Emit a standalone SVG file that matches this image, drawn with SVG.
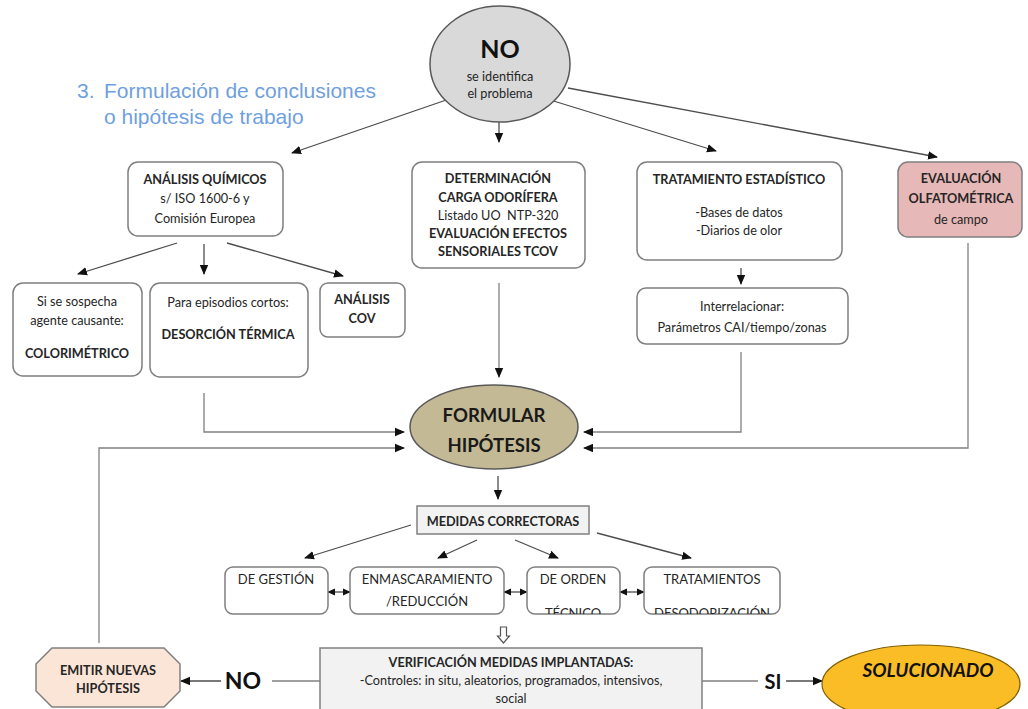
<svg xmlns="http://www.w3.org/2000/svg" width="1028" height="709" viewBox="0 0 1028 709">
<defs>
<marker id="ah" markerUnits="userSpaceOnUse" markerWidth="10" markerHeight="10" viewBox="0 0 10 10" refX="9" refY="5" orient="auto"><path d="M0,0.8 L10,5 L0,9.2 Z" fill="#111"/></marker>
<marker id="ahs" markerUnits="userSpaceOnUse" markerWidth="8" markerHeight="8" viewBox="0 0 10 10" refX="9" refY="5" orient="auto-start-reverse"><path d="M0,0.5 L10,5 L0,9.5 Z" fill="#111"/></marker>
<clipPath id="c3"><rect x="527" y="567" width="93" height="47"/></clipPath>
<clipPath id="c4"><rect x="644" y="567" width="136" height="47"/></clipPath>
</defs>
<style>
text{font-family:Lato,"Liberation Sans",sans-serif;fill:#262626;text-anchor:middle}
.b{font-weight:bold}
.s{font-size:12.7px}
.m{font-size:13px}
.t{font-family:"Liberation Sans",Arial,sans-serif;font-size:21px;fill:#6f9fe0;text-anchor:start}
.box{fill:#fff;stroke:#7f7f7f;stroke-width:1.5}
.ln{fill:none;stroke:#4d4d4d;stroke-width:1.3}
.lg{fill:none;stroke:#808080;stroke-width:1.3}
</style>
<rect width="1028" height="709" fill="#fff"/>

<g id="title">
<text x="77" y="98" class="t">3.</text>
<text x="104" y="98" class="t">Formulación de conclusiones</text>
<text x="104" y="124" class="t">o hipótesis de trabajo</text>
</g>

<g id="connectors">
<line class="ln" x1="455" y1="97" x2="292" y2="153" marker-end="url(#ah)"/>
<line class="ln" x1="499" y1="108" x2="499" y2="142" marker-end="url(#ah)"/>
<line class="ln" x1="547" y1="99" x2="716" y2="151" marker-end="url(#ah)"/>
<line class="ln" x1="568" y1="88" x2="937" y2="157" marker-end="url(#ah)"/>
<line class="ln" x1="177" y1="243" x2="78" y2="274" marker-end="url(#ah)"/>
<line class="ln" x1="204" y1="244" x2="204" y2="274" marker-end="url(#ah)"/>
<line class="ln" x1="227" y1="243" x2="343" y2="276" marker-end="url(#ah)"/>
<polyline class="lg" points="204,393 204,432 404,432" marker-end="url(#ah)"/>
<polyline class="lg" points="99,643 99,448 404,448" marker-end="url(#ah)"/>
<line class="lg" x1="499" y1="283" x2="499" y2="377" marker-end="url(#ah)"/>
<line class="ln" x1="741" y1="268" x2="741" y2="284" marker-end="url(#ah)"/>
<polyline class="lg" points="741,352 741,432 584,432" marker-end="url(#ah)"/>
<polyline class="lg" points="968,243 968,448 584,448" marker-end="url(#ah)"/>
<line class="ln" x1="498" y1="476" x2="498" y2="499" marker-end="url(#ah)"/>
<line class="ln" x1="411" y1="525" x2="305" y2="558" marker-end="url(#ah)"/>
<line class="ln" x1="477" y1="540" x2="438" y2="558" marker-end="url(#ah)"/>
<line class="ln" x1="515" y1="540" x2="558" y2="558" marker-end="url(#ah)"/>
<line class="ln" x1="597" y1="533" x2="691" y2="558" marker-end="url(#ah)"/>
<line class="ln" x1="328" y1="592" x2="350" y2="592" marker-start="url(#ahs)" marker-end="url(#ahs)"/>
<line class="ln" x1="504" y1="592" x2="527" y2="592" marker-start="url(#ahs)" marker-end="url(#ahs)"/>
<line class="ln" x1="620" y1="592" x2="644" y2="592" marker-start="url(#ahs)" marker-end="url(#ahs)"/>
<path d="M500.5,627 H506.5 V636 H509.5 L503.5,643 L497.5,636 H500.5 Z" fill="#fff" stroke="#555" stroke-width="1.2"/>
<line class="lg" x1="320" y1="681" x2="272" y2="681"/>
<line class="ln" x1="221" y1="681" x2="181" y2="681" marker-end="url(#ah)"/>
<line class="lg" x1="702" y1="681" x2="758" y2="681"/>
<line class="ln" x1="786" y1="681" x2="822" y2="681" marker-end="url(#ah)"/>
<text x="243" y="689" class="b" style="font-size:23px;fill:#111">NO</text>
<text x="773" y="689" class="b" style="font-size:20px;fill:#111">SI</text>
</g>

<g id="no-problema">
<ellipse cx="500" cy="64" rx="70" ry="58" fill="#d9d9d9" stroke="#595959" stroke-width="1.5"/>
<text x="500" y="58" class="b" style="font-size:25px;fill:#111">NO</text>
<text x="500" y="81" class="s">se identifica</text>
<text x="500" y="98" class="s">el problema</text>
</g>

<g id="analisis-quimicos">
<rect class="box" x="128" y="162" width="155" height="74" rx="10"/>
<text x="205" y="184" class="s b">ANÁLISIS QUÍMICOS</text>
<text x="205" y="203" class="s">s/ ISO 1600-6 y</text>
<text x="205" y="223" class="s">Comisión Europea</text>
</g>

<g id="determinacion">
<rect class="box" x="412" y="162" width="173" height="106" rx="10"/>
<text x="498" y="183" class="s b">DETERMINACIÓN</text>
<text x="498" y="202" class="s b">CARGA ODORÍFERA</text>
<text x="498" y="220" class="s">Listado UO&#160; NTP-320</text>
<text x="498" y="238" class="s b">EVALUACIÓN EFECTOS</text>
<text x="498" y="256" class="s b">SENSORIALES TCOV</text>
</g>

<g id="tratamiento-estadistico">
<rect class="box" x="637" y="162" width="205" height="98" rx="10"/>
<text x="739" y="184" class="s b">TRATAMIENTO ESTADÍSTICO</text>
<text x="739" y="217" class="s">-Bases de datos</text>
<text x="739" y="235" class="s">-Diarios de olor</text>
</g>

<g id="interrelacionar">
<rect class="box" x="637" y="288" width="211" height="56" rx="9"/>
<text x="742" y="311" class="s">Interrelacionar:</text>
<text x="742" y="332" class="s">Parámetros CAI/tiempo/zonas</text>
</g>

<g id="evaluacion-olfatometrica">
<rect x="898" y="162" width="124" height="75" rx="10" fill="#e6b8b7" stroke="#808080" stroke-width="1.5"/>
<text x="961" y="183" class="s b">EVALUACIÓN</text>
<text x="961" y="203" class="s b">OLFATOMÉTRICA</text>
<text x="961" y="224" class="s">de campo</text>
</g>

<g id="colorimetrico">
<rect class="box" x="13" y="283" width="129" height="93" rx="10"/>
<text x="77" y="306" class="s">Si se sospecha</text>
<text x="77" y="325" class="s">agente causante:</text>
<text x="77" y="358" class="s b">COLORIMÉTRICO</text>
</g>

<g id="desorcion">
<rect class="box" x="150" y="283" width="158" height="94" rx="10"/>
<text x="228" y="307" class="s">Para episodios cortos:</text>
<text x="228" y="339" class="s b">DESORCIÓN TÉRMICA</text>
</g>

<g id="analisis-cov">
<rect class="box" x="320" y="283" width="85" height="54" rx="8"/>
<text x="362" y="304" class="s b">ANÁLISIS</text>
<text x="362" y="323" class="s b">COV</text>
</g>

<g id="formular-hipotesis">
<ellipse cx="494" cy="427" rx="84" ry="42" fill="#c4b995" stroke="#595959" stroke-width="1.5"/>
<text x="494" y="422" class="b" style="font-size:18.5px;fill:#1a1a1a">FORMULAR</text>
<text x="494" y="452" class="b" style="font-size:18.5px;fill:#1a1a1a">HIPÓTESIS</text>
</g>

<g id="medidas-correctoras">
<rect x="417" y="506" width="172" height="28" fill="#f2f2f2" stroke="#808080" stroke-width="1.5"/>
<text x="503" y="526" class="s b">MEDIDAS CORRECTORAS</text>
</g>

<g id="de-gestion">
<rect class="box" x="225" y="567" width="103" height="47" rx="8"/>
<text x="276" y="584" class="m">DE GESTIÓN</text>
</g>

<g id="enmascaramiento">
<rect class="box" x="350" y="567" width="154" height="47" rx="8"/>
<text x="427" y="584" class="m">ENMASCARAMIENTO</text>
<text x="427" y="606" class="m">/REDUCCIÓN</text>
</g>

<g id="de-orden-tecnico">
<rect class="box" x="527" y="567" width="93" height="47" rx="8"/>
<g clip-path="url(#c3)">
<text x="573" y="584" class="m">DE ORDEN</text>
<text x="573" y="618" class="m">TÉCNICO</text>
</g>
</g>

<g id="tratamientos">
<rect class="box" x="644" y="567" width="136" height="47" rx="8"/>
<g clip-path="url(#c4)">
<text x="712" y="584" class="m">TRATAMIENTOS</text>
<text x="712" y="618" class="m">DESODORIZACIÓN</text>
</g>
</g>

<g id="verificacion">
<rect x="320" y="648" width="382" height="70" fill="#f2f2f2" stroke="#808080" stroke-width="1.5"/>
<text x="511" y="667" class="s b">VERIFICACIÓN MEDIDAS IMPLANTADAS:</text>
<text x="511" y="685" class="s">-Controles: in situ, aleatorios, programados, intensivos,</text>
<text x="511" y="703" class="s">social</text>
</g>

<g id="emitir-nuevas">
<polygon points="52,648 164,648 180,664 180,691 164,707 52,707 36,691 36,664" fill="#fbe5d6" stroke="#808080" stroke-width="1.5"/>
<text x="108" y="675" class="s b">EMITIR NUEVAS</text>
<text x="108" y="693" class="s b">HIPÓTESIS</text>
</g>

<g id="solucionado">
<ellipse cx="921" cy="684" rx="99" ry="39" fill="#fbbd25" stroke="#7f6000" stroke-width="1.2"/>
<text x="928" y="677" class="b" style="font-size:19px;font-style:italic;fill:#111">SOLUCIONADO</text>
</g>
</svg>
